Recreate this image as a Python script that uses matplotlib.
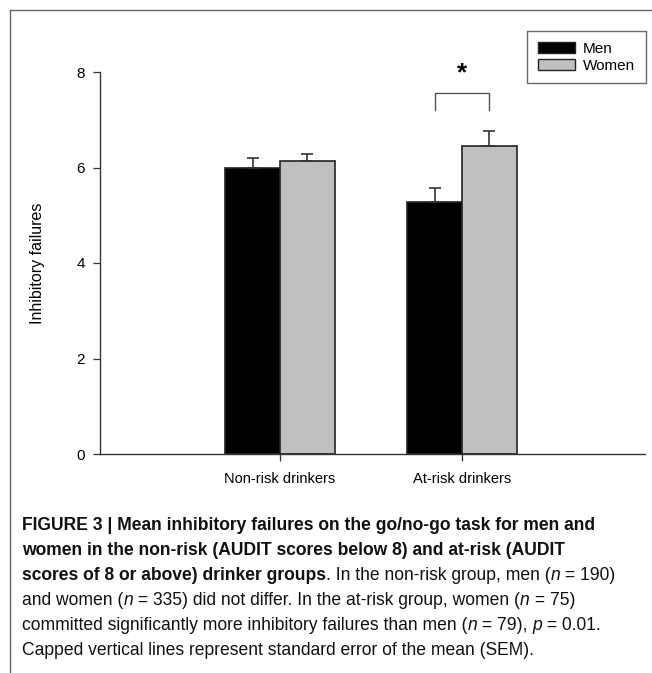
import matplotlib
matplotlib.use("Agg")
import matplotlib.pyplot as plt
from matplotlib.patches import Patch
from matplotlib.lines import Line2D
import numpy as np

plt.rcParams['font.family'] = ['Liberation Sans', 'DejaVu Sans']

categories = ["Non-risk drinkers", "At-risk drinkers"]
series = ["Men", "Women"]
men_means = [5.98, 5.27]
women_means = [6.14, 6.45]
men_sem = [0.21, 0.31]
women_sem = [0.15, 0.32]
y_ticks = [0, 2, 4, 6, 8]
ylabel = "Inhibitory failures"

W, H = 652, 673
fig = plt.figure(figsize=(W / 100, H / 100), dpi=100)

def fx(px):
    return px / W

def fy(py):
    return 1 - py / H

ax = fig.add_axes([fx(100), fy(454), fx(645) - fx(100), fy(72) - fy(454)])

x = np.arange(1, len(categories) + 1)
bw = 0.30
edge = "#222222"
ax.bar(x - bw / 2, men_means, bw, color="black", edgecolor=edge, linewidth=1.2,
       label=series[0], zorder=2)
ax.bar(x + bw / 2, women_means, bw, color="#c0c0c0", edgecolor=edge, linewidth=1.2,
       label=series[1], zorder=2)
ax.errorbar(x - bw / 2, men_means, yerr=[np.zeros(len(x)), men_sem], fmt="none",
            ecolor="#333333", elinewidth=1.2, capsize=4.3, capthick=1.2, zorder=3)
ax.errorbar(x + bw / 2, women_means, yerr=[np.zeros(len(x)), women_sem], fmt="none",
            ecolor="#333333", elinewidth=1.2, capsize=4.3, capthick=1.2, zorder=3)

ax.set_xlim(0.011, 3.005)
ax.set_ylim(0, 8)
ax.set_yticks(y_ticks)
ax.set_yticklabels([str(t) for t in y_ticks], fontsize=11)
ax.set_xticks(x)
ax.set_xticklabels(categories, fontsize=10.5)
ax.tick_params(axis="both", direction="out", length=5, width=0.9, color="#333333")
ax.tick_params(axis="x", pad=8)
ax.tick_params(axis="y", pad=6)
for s in ["top", "right"]:
    ax.spines[s].set_visible(False)
for s in ["left", "bottom"]:
    ax.spines[s].set_color("#333333")
    ax.spines[s].set_linewidth(1.0)
ax.set_ylabel(ylabel, fontsize=11.5)
ax.yaxis.set_label_coords((45 - 100) / 545, 0.5)

# significance bracket (between at-risk bars)
bx0, bx1 = x[1] - bw / 2, x[1] + bw / 2
ax.plot([bx0, bx0, bx1, bx1], [7.20, 7.56, 7.56, 7.20], color="#555555", lw=1.0,
        clip_on=False)
ax.text(x[1], 7.98, "*", ha="center", va="center", fontsize=19, fontweight="bold",
        clip_on=False)

# legend
handles = [Patch(facecolor="black", edgecolor=edge, linewidth=1.0, label=series[0]),
           Patch(facecolor="#c0c0c0", edgecolor=edge, linewidth=1.0, label=series[1])]
leg = fig.legend(handles=handles, loc="upper right", bbox_to_anchor=(fx(646), fy(31)),
                 borderaxespad=0, fontsize=11, frameon=True, fancybox=False,
                 handlelength=2.4, handleheight=0.68, handletextpad=0.55,
                 labelspacing=0.2, borderpad=0.7)
leg.get_frame().set_edgecolor("#444444")
leg.get_frame().set_linewidth(1.0)

# figure border lines (left and top)
fig.add_artist(Line2D([fx(10), fx(10)], [0, fy(10)], color="#666666", lw=1.0))
fig.add_artist(Line2D([fx(10), 1], [fy(10), fy(10)], color="#666666", lw=1.0))

# caption
fig.canvas.draw()
r = fig.canvas.get_renderer()

def width_of(s, **kw):
    t = fig.text(0, 0, s, **kw)
    w = t.get_window_extent(r).width
    t.remove()
    return w

line1 = "FIGURE 3 | Mean inhibitory failures on the go/no-go task for men and"
w10 = width_of(line1, fontsize=10, fontweight="bold")
fs = 10 * 575 / w10

caption = [
    [("FIGURE 3 | Mean inhibitory failures on the go/no-go task for men and", "bold", "normal")],
    [("women in the non-risk (AUDIT scores below 8) and at-risk (AUDIT", "bold", "normal")],
    [("scores of 8 or above) drinker groups", "bold", "normal"),
     (". In the non-risk group, men (", "normal", "normal"), ("n", "normal", "italic"),
     (" = 190)", "normal", "normal")],
    [("and women (", "normal", "normal"), ("n", "normal", "italic"),
     (" = 335) did not differ. In the at-risk group, women (", "normal", "normal"),
     ("n", "normal", "italic"), (" = 75)", "normal", "normal")],
    [("committed significantly more inhibitory failures than men (", "normal", "normal"),
     ("n", "normal", "italic"), (" = 79), ", "normal", "normal"), ("p", "normal", "italic"),
     (" = 0.01.", "normal", "normal")],
    [("Capped vertical lines represent standard error of the mean (SEM).", "normal", "normal")],
]
baselines = [530, 555, 580, 605, 630, 655]
for segs, by in zip(caption, baselines):
    xp = 22
    for s, wt, st in segs:
        t = fig.text(fx(xp), fy(by), s, fontsize=fs, fontweight=wt, fontstyle=st,
                     va="baseline", ha="left", color="#111111")
        xp += t.get_window_extent(r).width * W / fig.bbox.width

fig.savefig("out.png", dpi=100)
